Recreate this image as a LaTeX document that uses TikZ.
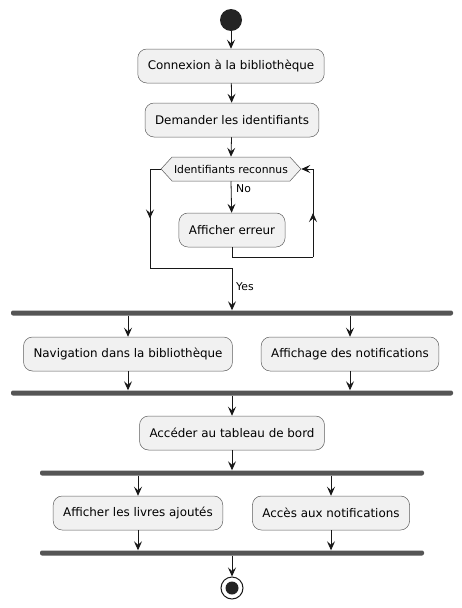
\documentclass[tikz,border=0pt]{standalone}
\usepackage{fontspec}
\setmainfont{DejaVu Sans}
\usepackage{xcolor}
\usetikzlibrary{arrows.meta, positioning, calc, shapes.symbols, decorations.markings}
\definecolor{actfill}{HTML}{F1F1F1}
\definecolor{ink}{HTML}{181818}
\definecolor{barcol}{HTML}{555555}

\begin{document}
\begin{tikzpicture}[x=1pt, y=-1pt,
    >={Stealth[length=9pt, width=8pt, inset=3.5pt]},
    act/.style={rectangle, rounded corners=9pt, draw=ink!70, line width=0.5pt, fill=actfill,
        minimum height=34pt, inner xsep=10pt, font=\fontsize{11.9}{14}\selectfont},
    cond/.style={shape=signal, signal to=west and east, signal pointer angle=95, draw=ink!70,
        line width=0.5pt, fill=actfill, minimum height=24pt, inner xsep=2pt, inner ysep=0pt,
        font=\fontsize{10.8}{12}\selectfont},
    bar/.style={rectangle, rounded corners=2pt, fill=barcol, inner sep=0pt, minimum height=5pt},
    line/.style={draw=ink, line width=0.8pt},
    flow/.style={line, ->},
    midarrow/.style={postaction={decorate}, decoration={markings, mark=at position 0.5 with {\arrow{>}}}},
    lbl/.style={anchor=west, inner sep=0pt, font=\fontsize{10.8}{12}\selectfont}]
    \useasboundingbox (0,0) rectangle (462,608);

    \node[circle, fill=ink!95, minimum size=22pt, inner sep=0pt] (start) at (231,20) {};
    \node[act] (conn) at (231,66) {Connexion à la bibliothèque};
    \node[act] (dem) at (232,120) {Demander les identifiants};
    \node[cond] (ids) at (231,169) {Identifiants reconnus};
    \node[act] (err) at (232,230) {Afficher erreur};
    \node[lbl] (no) at (236,189) {No};
    \node[lbl] (yes) at (236,287) {Yes};

    \coordinate (lp1) at (150,169);
    \coordinate (lp2) at (150,268);
    \coordinate (rp1) at (313,257);
    \coordinate (rp2) at (313,169);

    \node[bar, minimum width=442pt] (fork1) at (232,313) {};
    \node[act] (nav) at (128,354) {Navigation dans la bibliothèque};
    \node[act] (notif) at (350,354) {Affichage des notifications};
    \node[bar, minimum width=442pt] (join1) at (232,393) {};
    \node[act] (dash) at (232,433) {Accéder au tableau de bord};
    \node[bar, minimum width=384pt] (fork2) at (232,473) {};
    \node[act] (livres) at (138,513) {Afficher les livres ajoutés};
    \node[act] (acces) at (331,513) {Accès aux notifications};
    \node[bar, minimum width=384pt] (join2) at (232,553) {};
    \node[circle, draw=ink, line width=1pt, fill=white, minimum size=22pt, inner sep=0pt] (stop) at (232,588) {};
    \node[circle, fill=ink!95, minimum size=13pt, inner sep=0pt] (stopin) at (stop) {};

    % top part
    \draw[flow] (start) -- (conn);
    \draw[flow] (conn) -- (dem);
    \draw[flow] (dem) -- (ids.north);
    \draw[flow] (ids.south) -- (err);
    % repeat loop
    \draw[line] (err.south) |- (rp1);
    \draw[line, midarrow] (rp1) -- (rp2);
    \draw[flow] (rp2) -- (ids.east);
    % exit
    \draw[line] (ids.west) -- (lp1);
    \draw[line, midarrow] (lp1) -- (lp2);
    \draw[flow] (lp2) -| (fork1.north);

    % first fork
    \draw[flow] (fork1.south -| nav) -- (nav);
    \draw[flow] (fork1.south -| notif) -- (notif);
    \draw[flow] (nav) -- (nav |- join1.north);
    \draw[flow] (notif) -- (notif |- join1.north);
    \draw[flow] (join1.south -| dash) -- (dash);

    % second fork
    \draw[flow] (dash) -- (dash |- fork2.north);
    \draw[flow] (fork2.south -| livres) -- (livres);
    \draw[flow] (fork2.south -| acces) -- (acces);
    \draw[flow] (livres) -- (livres |- join2.north);
    \draw[flow] (acces) -- (acces |- join2.north);
    \draw[flow] (join2.south -| stop) -- (stop);
\end{tikzpicture}
\end{document}
